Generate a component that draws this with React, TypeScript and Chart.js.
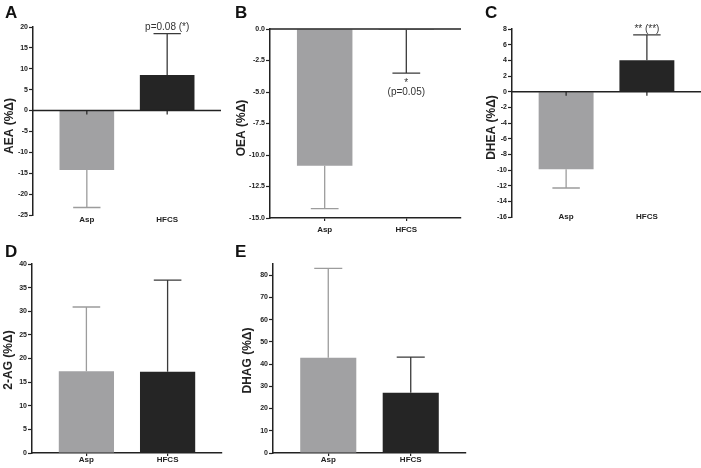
import React, { useEffect, useRef } from 'react';
import { Chart, registerables } from 'chart.js';

Chart.register(...registerables);

const FONT = '"Liberation Sans", Arial, Helvetica, sans-serif';
Chart.defaults.font.family = FONT;

// ---------- data ----------
const categories = ['Asp', 'HFCS'];

const aeaMeans = [-14.2, 8.5];
const aeaErrors = [9.0, 9.9];

const oeaMeans = [-10.85, -0.05];
const oeaErrors = [3.4, 3.45];

const dheaMeans = [-9.9, 4.0];
const dheaErrors = [2.4, 3.25];

const twoAgMeans = [17.3, 17.2];
const twoAgErrors = [13.6, 19.4];

const dhagMeans = [42.8, 27.1];
const dhagErrors = [40.2, 16.0];

const aeaAxis = { min: -25, max: 20, step: 5, decimals: 0 };
const oeaAxis = { min: -15, max: 0, step: 2.5, decimals: 1 };
const dheaAxis = { min: -16, max: 8, step: 2, decimals: 0 };
const twoAgAxis = { min: 0, max: 40, step: 5, decimals: 0 };
const dhagAxis = { min: 0, max: 85, step: 10, decimals: 0 };

const aeaNotes = [{ index: 1, text: 'p=0.08 (*)' }];
const oeaNotes = [{ index: 1, text: '*' }, { index: 1, text: '(p=0.05)' }];
const dheaNotes = [{ index: 1, text: '** (**)' }];

// ---------- styles ----------
const barColors = ['#a1a1a3', '#252525'];
const errColors = ['#9c9c9c', '#3a3a3a'];
const INK = '#222222';
const W = 701;
const H = 468;
const X_AXIS_H = 14;
const TITLE_SIZE = 12;

type Panel = {
  letter: string;
  letterPos: [number, number];
  title: string;
  means: number[];
  errors: number[];
  axis: { min: number; max: number; step: number; decimals: number };
  area: { left: number; right: number; top: number; bottom: number };
  axisLeft: number;
  titleX: number;
  titleDy: number;
  zeroLine: boolean;
  zeroTicks: boolean;
  bottomAxis: boolean;
  labelDy: number;
  notes: { index: number; text: string }[];
  noteDy: number[];
};

const panels: Panel[] = [
  {
    letter: 'A', letterPos: [5, 4], title: 'AEA (%\u0394)', means: aeaMeans, errors: aeaErrors, axis: aeaAxis,
    area: { left: 33, right: 221, top: 27, bottom: 215 }, axisLeft: 1, titleX: 10, titleDy: 5,
    zeroLine: true, zeroTicks: true, bottomAxis: false, labelDy: 5, notes: aeaNotes, noteDy: [-4],
  },
  {
    letter: 'B', letterPos: [235, 4], title: 'OEA (%\u0394)', means: oeaMeans, errors: oeaErrors, axis: oeaAxis,
    area: { left: 270, right: 461, top: 29, bottom: 218 }, axisLeft: 232, titleX: 241.5, titleDy: 4.5,
    zeroLine: true, zeroTicks: false, bottomAxis: true, labelDy: 12, notes: oeaNotes, noteDy: [12.5, 21.5],
  },
  {
    letter: 'C', letterPos: [485, 4], title: 'DHEA (%\u0394)', means: dheaMeans, errors: dheaErrors, axis: dheaAxis,
    area: { left: 512, right: 701, top: 29, bottom: 217 }, axisLeft: 482, titleX: 491.5, titleDy: 4.5,
    zeroLine: true, zeroTicks: true, bottomAxis: false, labelDy: 0, notes: dheaNotes, noteDy: [-2.5],
  },
  {
    letter: 'D', letterPos: [5, 243], title: '2-AG (%\u0394)', means: twoAgMeans, errors: twoAgErrors, axis: twoAgAxis,
    area: { left: 32, right: 222, top: 264, bottom: 453 }, axisLeft: 0, titleX: 8.5, titleDy: 1.5,
    zeroLine: false, zeroTicks: false, bottomAxis: true, labelDy: 7, notes: [], noteDy: [],
  },
  {
    letter: 'E', letterPos: [235, 243], title: 'DHAG (%\u0394)', means: dhagMeans, errors: dhagErrors, axis: dhagAxis,
    area: { left: 273, right: 466, top: 264, bottom: 453 }, axisLeft: 239, titleX: 248, titleDy: 2,
    zeroLine: false, zeroTicks: false, bottomAxis: true, labelDy: 7, notes: [], noteDy: [],
  },
];

function makeChart(canvas: HTMLCanvasElement, p: Panel) {
  const extras = {
    id: 'extras' + p.letter,
    afterDatasetsDraw(chart: any) {
      const { ctx, chartArea } = chart;
      const xs = chart.scales.x;
      const ys = chart.scales.y;
      const meta = chart.getDatasetMeta(0);
      ctx.save();
      // error bars (one-sided, away from zero)
      meta.data.forEach((bar: any, i: number) => {
        const m = p.means[i];
        const e = p.errors[i];
        const dir = m < 0 ? -1 : 1;
        const y0 = ys.getPixelForValue(m);
        const y1 = ys.getPixelForValue(m + dir * e);
        const half = bar.width * 0.25;
        ctx.strokeStyle = errColors[i];
        ctx.lineWidth = 1.3;
        ctx.beginPath();
        ctx.moveTo(bar.x, y0);
        ctx.lineTo(bar.x, y1);
        ctx.moveTo(bar.x - half, y1);
        ctx.lineTo(bar.x + half, y1);
        ctx.stroke();
      });
      if (p.zeroLine) {
        const yz = ys.getPixelForValue(0);
        ctx.strokeStyle = INK;
        ctx.lineWidth = 1.5;
        ctx.beginPath();
        ctx.moveTo(chartArea.left, yz);
        ctx.lineTo(chartArea.right, yz);
        ctx.stroke();
        if (p.zeroTicks) {
          ctx.lineWidth = 1.2;
          categories.forEach((_, i) => {
            const px = xs.getPixelForValue(i);
            ctx.beginPath();
            ctx.moveTo(px, yz);
            ctx.lineTo(px, yz + 4);
            ctx.stroke();
          });
        }
      }
      // category labels
      ctx.fillStyle = INK;
      ctx.font = `bold 8px ${FONT}`;
      ctx.textAlign = 'center';
      ctx.textBaseline = 'middle';
      categories.forEach((c, i) => {
        ctx.fillText(c, xs.getPixelForValue(i), chartArea.bottom + p.labelDy);
      });
      // y-axis title
      ctx.save();
      ctx.translate(p.titleX, (chartArea.top + chartArea.bottom) / 2 + p.titleDy);
      ctx.rotate(-Math.PI / 2);
      ctx.font = `bold ${TITLE_SIZE}px ${FONT}`;
      ctx.fillStyle = INK;
      ctx.textAlign = 'center';
      ctx.textBaseline = 'middle';
      ctx.fillText(p.title, 0, 0);
      ctx.restore();
      // annotations
      ctx.fillStyle = '#333';
      ctx.font = `10px ${FONT}`;
      ctx.textAlign = 'center';
      ctx.textBaseline = 'alphabetic';
      p.notes.forEach((n, k) => {
        const m = p.means[n.index];
        const e = p.errors[n.index];
        const dir = m < 0 ? -1 : 1;
        const cap = ys.getPixelForValue(m + dir * e);
        ctx.fillText(n.text, xs.getPixelForValue(n.index), cap + p.noteDy[k]);
      });
      ctx.restore();
    },
  };

  return new Chart(canvas, {
    type: 'bar',
    data: {
      datasets: [
        {
          data: p.means.map((v, i) => ({ x: i, y: v })),
          backgroundColor: barColors,
          borderWidth: 0,
          categoryPercentage: 1,
          barPercentage: 0.68,
        },
      ],
    },
    options: {
      animation: false,
      responsive: false,
      devicePixelRatio: 1,
      events: [],
      layout: {
        padding: {
          left: p.axisLeft,
          right: W - p.area.right,
          top: p.area.top,
          bottom: H - p.area.bottom - X_AXIS_H,
        },
      },
      plugins: { legend: { display: false }, tooltip: { enabled: false }, title: { display: false } },
      scales: {
        x: {
          type: 'linear',
          min: -0.67,
          max: 1.67,
          offset: false,
          afterBuildTicks: (s: any) => {
            s.ticks = categories.map((_, i) => ({ value: i }));
          },
          afterFit: (s: any) => {
            s.height = X_AXIS_H;
          },
          grid: {
            display: p.bottomAxis,
            drawOnChartArea: false,
            drawTicks: p.bottomAxis,
            tickLength: 3,
            color: INK,
            lineWidth: 1.2,
            offset: false,
          },
          border: { display: p.bottomAxis, color: INK, width: 1.5 },
          ticks: { display: false, autoSkip: false, maxRotation: 0 },
        },
        y: {
          min: p.axis.min,
          max: p.axis.max,
          afterBuildTicks: (s: any) => {
            s.ticks = s.ticks.filter((t: any) => {
              const r = (t.value - p.axis.min) / p.axis.step;
              return Math.abs(r - Math.round(r)) < 1e-6;
            });
          },
          afterFit: (s: any) => {
            s.width = p.area.left - p.axisLeft;
          },
          ticks: {
            stepSize: p.axis.step,
            autoSkip: false,
            padding: 1,
            color: INK,
            font: { size: 7, weight: 'bold' },
            callback: (v: any) => Number(v).toFixed(p.axis.decimals),
          },
          grid: {
            drawOnChartArea: false,
            drawTicks: true,
            tickLength: 4,
            color: INK,
            tickColor: INK,
            tickWidth: 1.2,
          },
          border: { display: true, color: INK, width: 1.5 },
          title: { display: false },
        },
      },
    },
    plugins: [extras],
  } as any);
}

function PanelCanvas({ p }: { p: Panel }) {
  const ref = useRef<HTMLCanvasElement | null>(null);
  useEffect(() => {
    if (!ref.current) return;
    const chart = makeChart(ref.current, p);
    return () => chart.destroy();
  }, [p]);
  return (
    <canvas
      ref={ref}
      width={W}
      height={H}
      style={{ position: 'absolute', left: 0, top: 0, width: W, height: H }}
    />
  );
}

export default function App() {
  return (
    <div
      style={{
        position: 'absolute',
        left: 0,
        top: 0,
        width: W,
        height: H,
        background: '#ffffff',
        overflow: 'hidden',
        fontFamily: FONT,
      }}
    >
      {panels.map((p) => (
        <PanelCanvas key={p.letter} p={p} />
      ))}
      {panels.map((p) => (
        <div
          key={'l' + p.letter}
          style={{
            position: 'absolute',
            left: p.letterPos[0],
            top: p.letterPos[1],
            fontSize: 17,
            lineHeight: '17px',
            fontWeight: 'bold',
            color: '#111',
          }}
        >
          {p.letter}
        </div>
      ))}
    </div>
  );
}
